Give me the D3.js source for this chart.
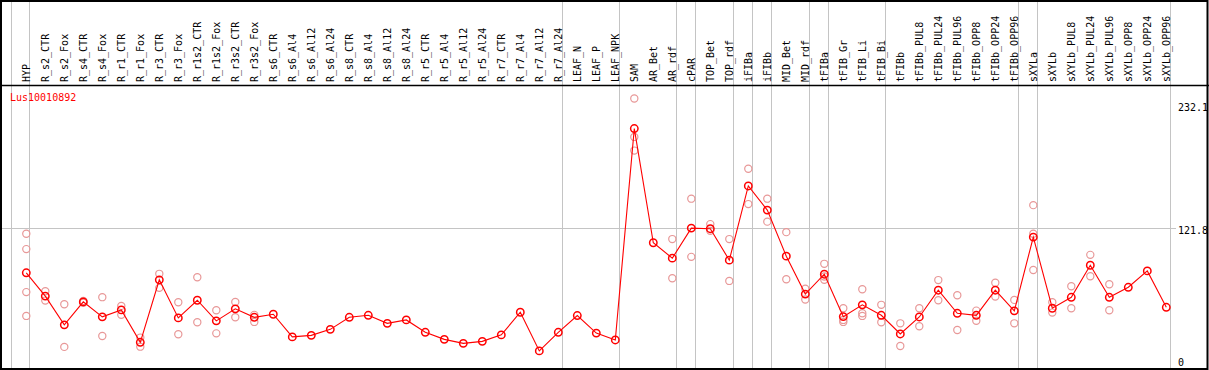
<!DOCTYPE html>
<html>
<head>
<meta charset="utf-8">
<script src="https://cdn.jsdelivr.net/npm/d3@7"></script>
<style>
  body { margin: 0; background: #fff; }
  text { font-family: "DejaVu Sans Mono", monospace; font-size: 10px; }
</style>
</head>
<body>
<div id="chart"></div>
<script>
// gene shown
var geneName = "Lus10010892";

// sample names along the top
var categories = ["HYP", "R_s2_CTR", "R_s2_Fox", "R_s4_CTR", "R_s4_Fox", "R_r1_CTR", "R_r1_Fox",
  "R_r3_CTR", "R_r3_Fox", "R_r1s2_CTR", "R_r1s2_Fox", "R_r3s2_CTR", "R_r3s2_Fox", "R_s6_CTR",
  "R_s6_Al4", "R_s6_Al12", "R_s6_Al24", "R_s8_CTR", "R_s8_Al4", "R_s8_Al12", "R_s8_Al24",
  "R_r5_CTR", "R_r5_Al4", "R_r5_Al12", "R_r5_Al24", "R_r7_CTR", "R_r7_Al4", "R_r7_Al12",
  "R_r7_Al24", "LEAF_N", "LEAF_P", "LEAF_NPK", "SAM", "AR_Bet", "AR_rdf", "cPAR", "TOP_Bet",
  "TOP_rdf", "iFIBa", "iFIBb", "MID_Bet", "MID_rdf", "tFIBa", "tFIB_Gr", "tFIB_Li", "tFIB_Bi",
  "tFIBb", "tFIBb_PUL8", "tFIBb_PUL24", "tFIBb_PUL96", "tFIBb_OPP8", "tFIBb_OPP24",
  "tFIBb_OPP96", "sXYLa", "sXYLb", "sXYLb_PUL8", "sXYLb_PUL24", "sXYLb_PUL96", "sXYLb_OPP8",
  "sXYLb_OPP24", "sXYLb_OPP96"];

// mean expression per sample
var means = [84.2, 64.4, 40.0, 59.5, 46.8, 52.7, 25.2, 78.2, 45.9, 60.9, 43.4, 53.6, 46.4, 49.0,
  29.8, 31.1, 36.2, 46.4, 48.1, 41.3, 44.2, 33.7, 27.7, 24.3, 26.0, 31.5, 50.7, 17.9, 33.7,
  47.9, 33.0, 27.2, 206.6, 109.7, 96.6, 122.1, 121.6, 94.9, 157.9, 137.4, 98.3, 66.1, 83.0,
  47.0, 57.0, 48.1, 32.3, 46.7, 69.4, 49.8, 48.1, 69.4, 51.9, 114.5, 54.1, 63.4, 90.6, 63.4,
  71.9, 85.8, 54.9];

// replicate values per sample (empty where they hide under the mean)
var replicates = [[117.3, 104.3, 67.8, 47.6], [68.6, 60.6], [57.5, 21.3], [60.3, 58.7],
  [63.5, 30.6], [56.1, 48.5], [29.2, 21.5], [83.3, 71.4], [59.2, 32.0], [80.4, 42.2],
  [52.4, 32.8], [59.5, 46.4], [48.5, 42.5], [], [], [], [], [], [], [], [], [], [], [], [],
  [], [], [], [], [], [], [], [232.1, 199.5, 187.9], [], [112.8, 79.6], [147.1, 97.7],
  [125.5, 119.8], [112.8, 77.3], [172.5, 142.5], [147.1, 127.6], [118.7, 78.7], [70.6, 61.5],
  [91.8, 81.0, 78.2], [54.1, 44.2, 42.5], [70.2, 49.8, 47.6], [57.0, 42.2], [41.3, 22.1],
  [54.1, 38.8], [78.0, 60.9], [65.1, 35.7], [52.1, 43.5], [75.7, 64.0], [61.2, 41.3],
  [141.6, 117.3, 86.5], [59.2, 50.4], [72.8, 54.1], [99.4, 81.3], [74.5, 52.4], [], [], []];

// samples that start a new group (gray separators), last one closes the chart
var groupStarts = [0, 1, 29, 32, 35, 36, 38, 39, 40, 42, 43, 46, 53, 54, 61];

// right axis values
var axisTicks = [0, 121.8, 232.1];
var gridTicks = [121.8];

var svgWidth = 1209;
var svgHeight = 370;
var headerBottom = 85;

var svg = d3.select("#chart")
  .append("svg")
  .attr("width", svgWidth)
  .attr("height", svgHeight);

// scales
var xScale = d3.scalePoint()
  .domain(categories)
  .range([26.3, 1166.3]);

var step = xScale.step();

var yScale = d3.scaleLinear()
  .domain([0, 232.1])
  .range([372, 98.5]);

// group separators, run through the header too
svg.selectAll(".vgrid")
  .data(groupStarts)
  .enter()
  .append("line")
  .attr("class", "vgrid")
  .attr("x1", d => Math.round(xScale(categories[0]) + d * step - 15.8) + 0.5)
  .attr("x2", d => Math.round(xScale(categories[0]) + d * step - 15.8) + 0.5)
  .attr("y1", 0)
  .attr("y2", svgHeight)
  .attr("stroke", "#c4c4c4")
  .attr("stroke-width", 1);

// horizontal grid
svg.selectAll(".hgrid")
  .data(gridTicks)
  .enter()
  .append("line")
  .attr("class", "hgrid")
  .attr("x1", 0)
  .attr("x2", 1176)
  .attr("y1", d => Math.round(yScale(d)) + 0.5)
  .attr("y2", d => Math.round(yScale(d)) + 0.5)
  .attr("stroke", "#c4c4c4")
  .attr("stroke-width", 1);

// frame and header line
svg.append("rect")
  .attr("x", 1)
  .attr("y", 1)
  .attr("width", svgWidth - 2.5)
  .attr("height", svgHeight - 2)
  .attr("fill", "none")
  .attr("stroke", "#000")
  .attr("stroke-width", 2);

svg.append("line")
  .attr("x1", 0)
  .attr("x2", svgWidth)
  .attr("y1", headerBottom + 0.5)
  .attr("y2", headerBottom + 0.5)
  .attr("stroke", "#000")
  .attr("stroke-width", 1.5);

// rotated sample labels
svg.selectAll(".cat")
  .data(categories)
  .enter()
  .append("text")
  .attr("class", "cat")
  .attr("transform", d => `translate(${xScale(d) + 4}, 82) rotate(-90)`)
  .attr("fill", "#000")
  .text(d => d);

// gene name
svg.append("text")
  .attr("x", 10)
  .attr("y", 101)
  .attr("fill", "#ff0000")
  .text(geneName);

// right axis labels, kept inside the plot area
svg.selectAll(".ylab")
  .data(axisTicks)
  .enter()
  .append("text")
  .attr("class", "ylab")
  .attr("x", 1178)
  .attr("y", d => Math.min(Math.max(yScale(d) - 2, 103), 358) + 8)
  .attr("fill", "#000")
  .text(d => d);

// replicate circles
var repData = [];
replicates.forEach(function(reps, i) {
  reps.forEach(function(v) {
    repData.push({ cat: categories[i], value: v });
  });
});

svg.selectAll(".rep")
  .data(repData)
  .enter()
  .append("circle")
  .attr("class", "rep")
  .attr("cx", d => xScale(d.cat))
  .attr("cy", d => yScale(d.value))
  .attr("r", 3.6)
  .attr("fill", "none")
  .attr("stroke", "#e89898")
  .attr("stroke-width", 1.2);

// mean line
var line = d3.line()
  .x((d, i) => xScale(categories[i]))
  .y(d => yScale(d));

svg.append("path")
  .datum(means)
  .attr("d", line)
  .attr("fill", "none")
  .attr("stroke", "#ff0000")
  .attr("stroke-width", 1.1);

// mean circles
svg.selectAll(".mean")
  .data(means)
  .enter()
  .append("circle")
  .attr("class", "mean")
  .attr("cx", (d, i) => xScale(categories[i]))
  .attr("cy", d => yScale(d))
  .attr("r", 3.7)
  .attr("fill", "none")
  .attr("stroke", "#ff0000")
  .attr("stroke-width", 1.5);
</script>
</body>
</html>
